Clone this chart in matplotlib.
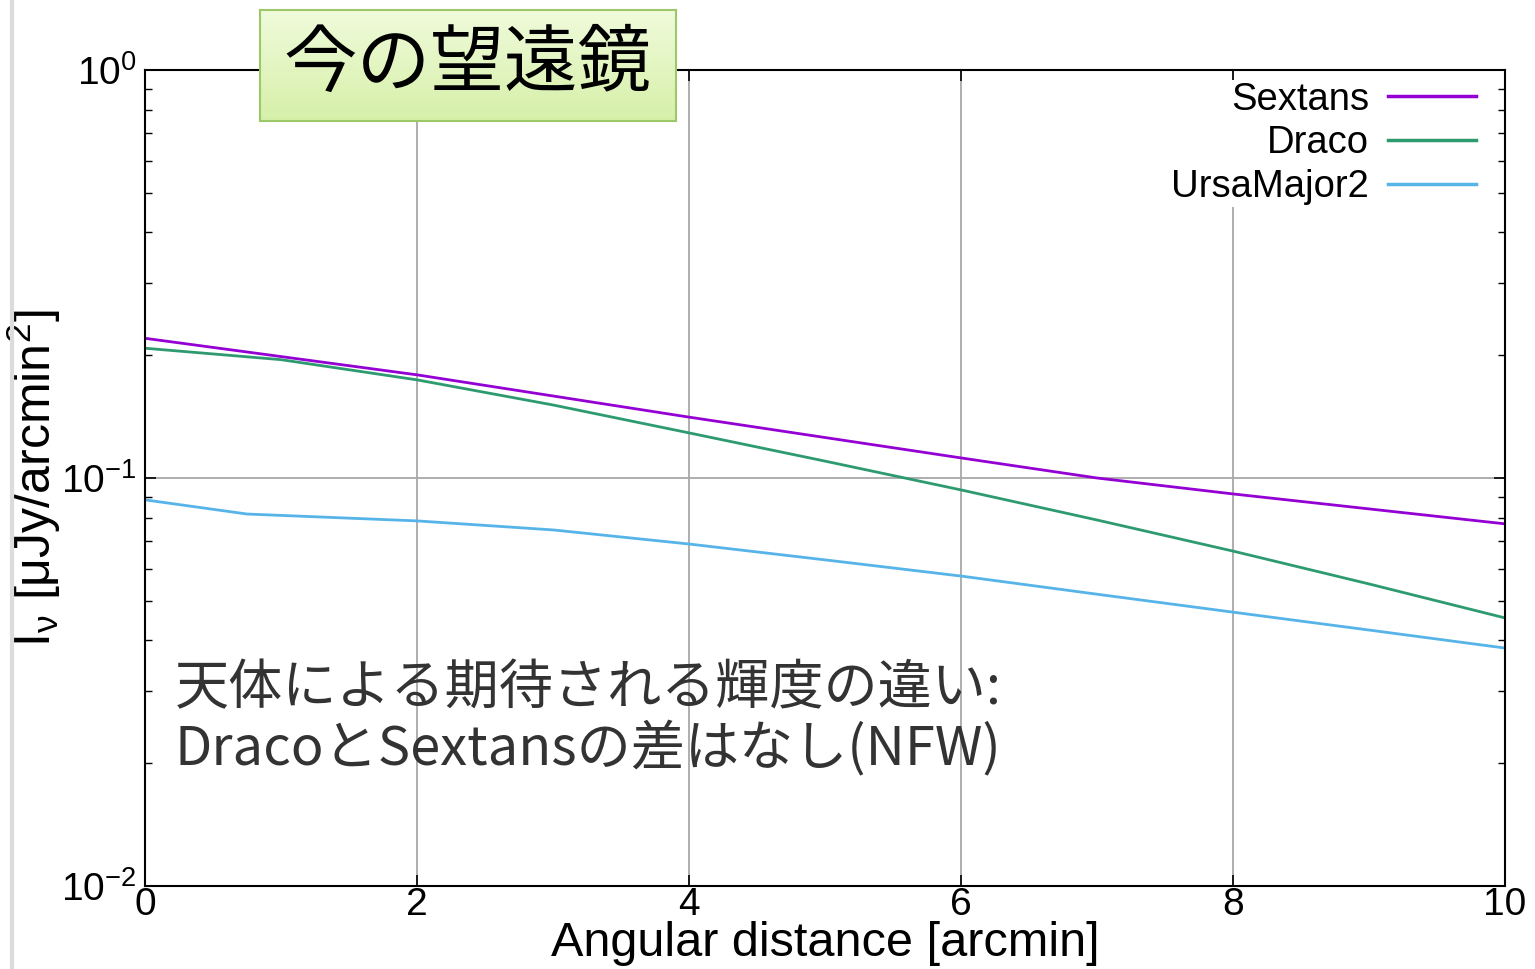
import matplotlib
matplotlib.use("Agg")
import matplotlib.pyplot as plt
from matplotlib.lines import Line2D
import matplotlib.ticker as mticker
import numpy as np

# ---- data ----
x_sextans = [0, 2, 4, 6, 7, 8, 10]
y_sextans = [0.220, 0.179, 0.141, 0.112, 0.100, 0.0914, 0.0772]

x_draco = [0, 1, 2, 3, 4, 5, 6, 7, 8, 9, 10]
y_draco = [0.208, 0.195, 0.174, 0.151, 0.129, 0.110, 0.0935, 0.0789, 0.0662, 0.0550, 0.0454]

x_uma2 = [0, 0.75, 2, 3, 4, 5, 6, 7, 8, 9, 10]
y_uma2 = [0.0884, 0.0816, 0.0785, 0.0746, 0.0689, 0.0630, 0.0575, 0.0519, 0.0469, 0.0424, 0.0383]

labels = ["Sextans", "Draco", "UrsaMajor2"]
colors = ["#9400d3", "#2e9a70", "#56b4e9"]

xlabel = "Angular distance [arcmin]"
ylabel = r"I$_{\nu}$ [$\mu$Jy/arcmin$^{2}$]"
box_text = "今の望遠鏡"
note_text = "天体による期待される輝度の違い:\nDracoとSextansの差はなし(NFW)"

plt.rcParams["font.family"] = ["Liberation Sans", "Noto Sans CJK JP"]
plt.rcParams["mathtext.fontset"] = "custom"
plt.rcParams["mathtext.rm"] = "Liberation Sans"
plt.rcParams["mathtext.it"] = "Liberation Sans"
plt.rcParams["mathtext.bf"] = "Liberation Sans:bold"

W, H = 1535, 969
fig = plt.figure(figsize=(W / 100, H / 100), dpi=100)
ax = fig.add_axes([145 / W, 1 - 886 / H, (1505 - 145) / W, (886 - 70) / H])

for xs, ys, lab, c in zip([x_sextans, x_draco, x_uma2], [y_sextans, y_draco, y_uma2], labels, colors):
    ax.plot(xs, ys, color=c, lw=2.0, label=lab)

ax.set_yscale("log")
ax.set_xlim(0, 10)
ax.set_ylim(1e-2, 1)
ax.set_xticks([0, 2, 4, 6, 8, 10])
ax.yaxis.set_major_locator(mticker.LogLocator(base=10, numticks=10))
ax.yaxis.set_minor_locator(mticker.LogLocator(base=10, subs=range(2, 10), numticks=20))
ax.yaxis.set_minor_formatter(mticker.NullFormatter())
ax.grid(True, which="major", color="#a8a8a8", lw=1.3)
ax.tick_params(which="both", direction="in", top=True, right=True, color="black")
ax.tick_params(which="major", length=8, width=1.2)
ax.tick_params(which="minor", length=5, width=1.0)
ax.tick_params(axis="x", labelsize=28, pad=1)
ax.tick_params(axis="y", labelsize=28, pad=6)
for sp in ax.spines.values():
    sp.set_linewidth(1.5)

ax.set_xlabel(xlabel, fontsize=35, labelpad=-2)
ax.set_ylabel(ylabel, fontsize=36, labelpad=-1)

leg = ax.legend(loc="upper right", bbox_to_anchor=(0.980, 0.988), fontsize=27.5,
                frameon=True, framealpha=1.0, edgecolor="white", markerfirst=False,
                handlelength=2.3, borderpad=0.05, labelspacing=0.2, handletextpad=0.5,
                borderaxespad=0.0, fancybox=False)
for t in leg.get_texts():
    t.set_ha("right")
leg.get_frame().set_linewidth(0)
for h in leg.get_lines():
    h.set_linewidth(2.5)

# annotation text
ax.text(0.022, 0.205, note_text, transform=ax.transAxes, fontsize=39,
        family=["Noto Sans CJK JP", "DejaVu Sans"], color="#333333",
        va="center", ha="left", linespacing=1.1)

# green label box (gradient)
bx0, by0, bx1, by1 = 260, 10, 676, 121
bax = fig.add_axes([bx0 / W, 1 - by1 / H, (bx1 - bx0) / W, (by1 - by0) / H], zorder=10)
grad = np.linspace(0, 1, 64).reshape(-1, 1)
top = np.array([0.94, 0.985, 0.86])
bot = np.array([0.84, 0.94, 0.66])
img = top[None, None, :] * (1 - grad[:, :, None]) + bot[None, None, :] * grad[:, :, None]
bax.imshow(img, aspect="auto", extent=(0, 1, 0, 1), origin="upper")
bax.set_xlim(0, 1)
bax.set_ylim(0, 1)
bax.set_xticks([])
bax.set_yticks([])
for sp in bax.spines.values():
    sp.set_color("#9cc86a")
    sp.set_linewidth(1.5)
bax.text(0.5, 0.5, box_text, fontsize=53, family=["Noto Sans CJK JP", "DejaVu Sans"],
         ha="center", va="center", color="black", transform=bax.transAxes)

# faint left page border
fig.lines.append(Line2D([12 / W, 12 / W], [0, 1], transform=fig.transFigure,
                        color="#dcdcdc", lw=3))

fig.savefig("out.png", dpi=100)
